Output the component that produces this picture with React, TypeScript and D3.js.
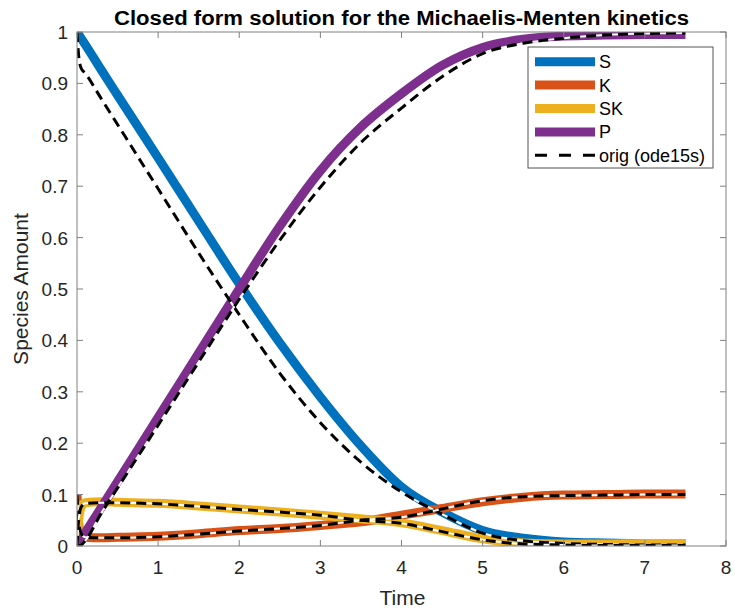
import React from "react";
import * as d3 from "d3";

const TIME = [0, 0.02, 0.05, 0.1, 0.3, 0.5, 1, 1.5, 2, 2.5, 3, 3.5, 4, 4.5, 5, 5.5, 6, 6.5, 7, 7.5];

// closed form solution
const S_CLOSED = [1, 0.995, 0.988, 0.976, 0.926, 0.877, 0.755, 0.632, 0.51, 0.395, 0.29, 0.195, 0.115, 0.066, 0.03, 0.015, 0.008, 0.006, 0.005, 0.005];
const K_CLOSED = [0.1, 0.045, 0.022, 0.017, 0.016, 0.017, 0.019, 0.024, 0.03, 0.034, 0.04, 0.047, 0.06, 0.073, 0.086, 0.095, 0.099, 0.1, 0.101, 0.101];
const SK_CLOSED = [0, 0.05, 0.075, 0.084, 0.086, 0.085, 0.083, 0.078, 0.072, 0.066, 0.06, 0.053, 0.045, 0.03, 0.014, 0.006, 0.004, 0.004, 0.005, 0.005];
const P_CLOSED = [0, 0.005, 0.012, 0.025, 0.075, 0.125, 0.25, 0.375, 0.5, 0.622, 0.73, 0.815, 0.88, 0.935, 0.97, 0.986, 0.992, 0.994, 0.995, 0.995];

// original ode15s solution
const S_ORIG = [1, 0.955, 0.93, 0.92, 0.87, 0.82, 0.695, 0.57, 0.45, 0.336, 0.24, 0.163, 0.105, 0.062, 0.025, 0.01, 0.005, 0.003, 0.002, 0.002];
const K_ORIG = [0.1, 0.05, 0.025, 0.017, 0.016, 0.016, 0.018, 0.023, 0.029, 0.034, 0.04, 0.05, 0.056, 0.072, 0.088, 0.096, 0.098, 0.099, 0.1, 0.1];
const SK_ORIG = [0, 0.05, 0.075, 0.083, 0.084, 0.084, 0.082, 0.077, 0.071, 0.066, 0.06, 0.05, 0.044, 0.028, 0.012, 0.004, 0.002, 0.001, 0.001, 0.001];
const P_ORIG = [0, 0.0, 0.002, 0.01, 0.064, 0.113, 0.235, 0.358, 0.48, 0.595, 0.698, 0.785, 0.852, 0.913, 0.958, 0.978, 0.988, 0.994, 0.997, 0.998];

const SERIES_NAMES = ["S", "K", "SK", "P"];
const SERIES_COLORS = ["#0072BD", "#D95319", "#EDB120", "#7E2F8E"];
const CLOSED = [S_CLOSED, K_CLOSED, SK_CLOSED, P_CLOSED];
const ORIG = [S_ORIG, K_ORIG, SK_ORIG, P_ORIG];
const ORIG_LABEL = "orig (ode15s)";

const X_TICKS = [0, 1, 2, 3, 4, 5, 6, 7, 8];
const Y_TICKS = [0, 0.1, 0.2, 0.3, 0.4, 0.5, 0.6, 0.7, 0.8, 0.9, 1];

const TITLE = "Closed form solution for the Michaelis-Menten kinetics";
const X_LABEL = "Time";
const Y_LABEL = "Species Amount";

const W = 735;
const H = 609;
const M = { left: 77, right: 726, top: 32, bottom: 546 };
const FONT = "'Liberation Sans', Arial, Helvetica, sans-serif";
const AXIS = "#808080";
const TEXT = "#262626";

export default function App() {
  const x = d3.scaleLinear().domain([0, 8]).range([M.left, M.right]);
  const y = d3.scaleLinear().domain([0, 1]).range([M.bottom, M.top]);
  const line = d3
    .line<number>()
    .x((_, i) => x(TIME[i]))
    .y((d) => y(d))
    .curve(d3.curveMonotoneX);

  const tickLen = 6;
  const legX = 528, legY = 47, legW = 185, legH = 121;
  const rowH = 23.4;

  return (
    <svg width={W} height={H} style={{ position: "absolute", left: 0, top: 0, background: "#fff" }}>
      <defs>
        <clipPath id="plotclip">
          <rect x={M.left} y={M.top} width={M.right - M.left} height={M.bottom - M.top} />
        </clipPath>
      </defs>
      <rect x={0} y={0} width={W} height={H} fill="#fff" />

      {/* title */}
      <text x={(M.left + M.right) / 2} y={25} textAnchor="middle" fontFamily={FONT} fontWeight="bold" fontSize={20} fill="#000" textLength={575} lengthAdjust="spacingAndGlyphs">
        {TITLE}
      </text>

      {/* lines */}
      <g clipPath="url(#plotclip)">
        {CLOSED.map((vals, k) => (
          <path key={"c" + k} d={line(vals) || ""} fill="none" stroke={SERIES_COLORS[k]} strokeWidth={9} strokeLinejoin="round" />
        ))}
        {ORIG.map((vals, k) => (
          <g key={"o" + k}>
            <path d={line(vals) || ""} fill="none" stroke="#fff" strokeWidth={2} />
            <path d={line(vals) || ""} fill="none" stroke="#000" strokeWidth={3} strokeDasharray="10,6" />
          </g>
        ))}
      </g>

      {/* axes box */}
      <rect x={M.left} y={M.top} width={M.right - M.left} height={M.bottom - M.top} fill="none" stroke={AXIS} strokeWidth={1} />
      {X_TICKS.map((t) => (
        <g key={"xt" + t}>
          <line x1={x(t)} x2={x(t)} y1={M.bottom} y2={M.bottom - tickLen} stroke={AXIS} />
          <line x1={x(t)} x2={x(t)} y1={M.top} y2={M.top + tickLen} stroke={AXIS} />
          <text x={x(t)} y={574} textAnchor="middle" fontFamily={FONT} fontSize={19} fill={TEXT}>
            {t}
          </text>
        </g>
      ))}
      {Y_TICKS.map((t) => (
        <g key={"yt" + t}>
          <line x1={M.left} x2={M.left + tickLen} y1={y(t)} y2={y(t)} stroke={AXIS} />
          <line x1={M.right} x2={M.right - tickLen} y1={y(t)} y2={y(t)} stroke={AXIS} />
          <text x={68} y={y(t) + 7} textAnchor="end" fontFamily={FONT} fontSize={19} fill={TEXT}>
            {String(t)}
          </text>
        </g>
      ))}

      <text x={(M.left + M.right) / 2 + 1} y={605} textAnchor="middle" fontFamily={FONT} fontSize={21} fill={TEXT}>
        {X_LABEL}
      </text>
      <text transform={`translate(28,${(M.top + M.bottom) / 2}) rotate(-90)`} textAnchor="middle" fontFamily={FONT} fontSize={21} fill={TEXT}>
        {Y_LABEL}
      </text>

      {/* legend */}
      <rect x={legX} y={legY} width={legW} height={legH} fill="#fff" stroke="#555" strokeWidth={1} />
      {SERIES_NAMES.map((n, k) => {
        const cy = legY + 14.7 + k * rowH;
        return (
          <g key={"l" + k}>
            <line x1={535} x2={595} y1={cy} y2={cy} stroke={SERIES_COLORS[k]} strokeWidth={9} />
            <text x={599} y={cy + 6.5} fontFamily={FONT} fontSize={18} fill="#000">
              {n}
            </text>
          </g>
        );
      })}
      <line x1={535} x2={595} y1={legY + 14.7 + 4 * rowH} y2={legY + 14.7 + 4 * rowH} stroke="#000" strokeWidth={3} strokeDasharray="12,12" />
      <text x={599} y={legY + 14.7 + 4 * rowH + 6.5} fontFamily={FONT} fontSize={18} fill="#000">
        {ORIG_LABEL}
      </text>
    </svg>
  );
}
